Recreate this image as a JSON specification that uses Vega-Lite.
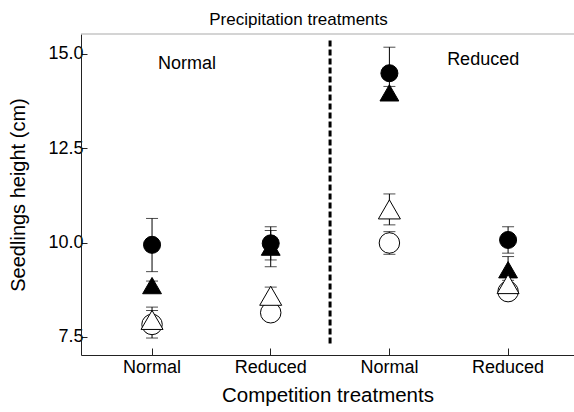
{
  "$schema": "https://vega.github.io/schema/vega-lite/v6.json",
  "width": 493,
  "height": 321,
  "autosize": "none",
  "padding": {"left": 81, "top": 34, "right": 0, "bottom": 57},
  "background": "white",
  "config": {
    "font": "Liberation Sans",
    "view": {"stroke": null},
    "axis": {"labelColor": "black", "titleColor": "black", "domainColor": "#222", "tickColor": "#222", "grid": false, "titleFontWeight": "normal"}
  },
  "title": {"text": "Precipitation treatments", "fontSize": 17, "fontWeight": "normal", "color": "black", "dx": -29, "offset": 4},
  "encoding": {
    "x": {
      "field": "cell", "type": "nominal", "sort": ["Normal|Normal", "Normal|Reduced", "Reduced|Normal", "Reduced|Reduced"],
      "scale": {"type": "band", "domain": ["Normal|Normal", "Normal|Reduced", "Reduced|Normal", "Reduced|Reduced"], "paddingInner": 0, "paddingOuter": 0.077, "align": 0.64},
      "axis": {"labelExpr": "split(datum.value, '|')[1]", "labelAngle": 0, "labelFontSize": 18, "labelPadding": 10, "tickSize": -7, "title": "Competition treatments", "titleFontSize": 20.5, "titlePadding": 9}
    }
  },
  "layer": [
    {
      "data": {"values": [{}]},
      "mark": {"type": "rule", "color": "#aaa", "strokeWidth": 1.2},
      "encoding": {"x": null, "y": {"datum": 15.53, "type": "quantitative"}}
    },
    {
      "data": {"values": [{}]},
      "mark": {"type": "rule", "color": "black", "strokeWidth": 3, "strokeDash": [6, 3]},
      "encoding": {"x": {"datum": "Reduced|Normal", "type": "nominal", "bandPosition": 0}, "y": {"datum": 15.36, "type": "quantitative"}, "y2": {"datum": 7.3}}
    },
    {
      "data": {"values": [{}]},
      "mark": {"type": "text", "text": "Normal", "fontSize": 18, "baseline": "middle", "color": "black"},
      "encoding": {"x": {"datum": "Normal|Normal", "type": "nominal", "bandPosition": 0.795}, "y": {"datum": 14.73, "type": "quantitative"}}
    },
    {
      "data": {"values": [{}]},
      "mark": {"type": "text", "text": "Reduced", "fontSize": 18, "baseline": "middle", "color": "black"},
      "encoding": {"x": {"datum": "Reduced|Reduced", "type": "nominal", "bandPosition": 0.29}, "y": {"datum": 14.84, "type": "quantitative"}}
    },
    {
      "data": {"name": "points", "values": [
        {"cell": "Normal|Normal", "series": "S1", "mean": 9.94, "lo": 9.23, "hi": 10.64},
        {"cell": "Normal|Reduced", "series": "S1", "mean": 9.98, "lo": 9.54, "hi": 10.42},
        {"cell": "Reduced|Normal", "series": "S1", "mean": 14.49, "lo": 13.8, "hi": 15.18},
        {"cell": "Reduced|Reduced", "series": "S1", "mean": 10.07, "lo": 9.72, "hi": 10.42},
        {"cell": "Normal|Normal", "series": "S3", "mean": 7.83, "lo": 7.47, "hi": 8.2},
        {"cell": "Normal|Reduced", "series": "S3", "mean": 8.14, "lo": 8.02, "hi": 8.26},
        {"cell": "Reduced|Normal", "series": "S3", "mean": 9.99, "lo": 9.69, "hi": 10.29},
        {"cell": "Reduced|Reduced", "series": "S3", "mean": 8.7, "lo": 8.55, "hi": 8.85},
        {"cell": "Normal|Normal", "series": "S2", "mean": 8.86, "lo": 8.74, "hi": 8.98},
        {"cell": "Normal|Reduced", "series": "S2", "mean": 9.88, "lo": 9.36, "hi": 10.32},
        {"cell": "Reduced|Normal", "series": "S2", "mean": 13.97, "lo": 13.8, "hi": 14.14},
        {"cell": "Reduced|Reduced", "series": "S2", "mean": 9.28, "lo": 8.93, "hi": 9.63},
        {"cell": "Normal|Normal", "series": "S4", "mean": 7.95, "lo": 7.61, "hi": 8.29},
        {"cell": "Normal|Reduced", "series": "S4", "mean": 8.59, "lo": 8.36, "hi": 8.82},
        {"cell": "Reduced|Normal", "series": "S4", "mean": 10.88, "lo": 10.47, "hi": 11.29},
        {"cell": "Reduced|Reduced", "series": "S4", "mean": 8.9, "lo": 8.8, "hi": 9.0}
      ]},
      "layer": [
        {
          "mark": {"type": "rule", "color": "black", "strokeWidth": 1},
          "encoding": {
            "y": {"field": "lo", "type": "quantitative", "scale": {"domain": [7.02, 15.53], "nice": false, "zero": false},
                  "axis": {"values": [7.5, 10, 12.5, 15], "format": ".1f", "labelFontSize": 18, "labelPadding": 4, "tickSize": -6, "title": "Seedlings height (cm)", "titleFontSize": 20, "titlePadding": 19}},
            "y2": {"field": "hi"}
          }
        },
        {
          "mark": {"type": "tick", "color": "black", "size": 12, "thickness": 1},
          "encoding": {"y": {"field": "lo", "type": "quantitative"}}
        },
        {
          "mark": {"type": "tick", "color": "black", "size": 12, "thickness": 1},
          "encoding": {"y": {"field": "hi", "type": "quantitative"}}
        },
        {
          "mark": {"type": "point", "stroke": "black", "strokeWidth": 1, "opacity": 1},
          "encoding": {
            "y": {"field": "mean", "type": "quantitative"},
            "shape": {"field": "series", "type": "nominal", "scale": {"domain": ["S1", "S2", "S3", "S4"], "range": ["circle", "triangle-up", "circle", "triangle-up"]}, "legend": null},
            "fill": {"field": "series", "type": "nominal", "scale": {"domain": ["S1", "S2", "S3", "S4"], "range": ["black", "black", "white", "white"]}, "legend": null},
            "size": {"field": "series", "type": "nominal", "scale": {"domain": ["S1", "S2", "S3", "S4"], "range": [290, 484, 290, 484]}, "legend": null}
          }
        }
      ]
    }
  ]
}
